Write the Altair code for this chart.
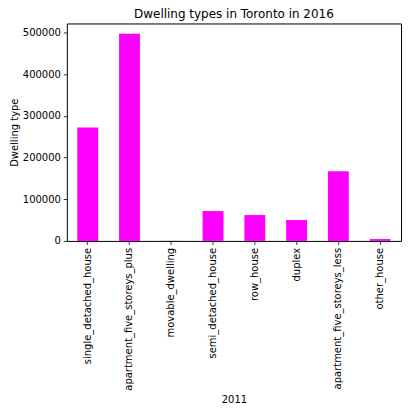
import altair as alt
import pandas as pd

categories = ["single_detached_house", "apartment_five_storeys_plus", "movable_dwelling",
              "semi_detached_house", "row_house", "duplex",
              "apartment_five_storeys_less", "other_house"]
values = [272000, 496500, 300, 71600, 62000, 50000, 167000, 4500]
y_ticks = [0, 100000, 200000, 300000, 400000, 500000]

df = pd.DataFrame({"type": categories, "count": values})

font = "DejaVu Sans"

chart = alt.Chart(df).mark_bar(color="#FF00FF").encode(
    x=alt.X("type:N", sort=categories,
            scale=alt.Scale(paddingInner=0.5, paddingOuter=0.25),
            axis=alt.Axis(title="2011", labelAngle=270, domain=False,
                          tickColor="black", tickSize=3.5, tickWidth=0.8,
                          labelColor="black", labelFont=font, labelFontSize=10,
                          labelPadding=3, titleFont=font, titleFontSize=10,
                          titleFontWeight="normal", titleColor="black",
                          titleBaseline="alphabetic", titleY=162,
                          labelLimit=400)),
    y=alt.Y("count:Q", scale=alt.Scale(domain=[0, 521300], nice=False, zero=True),
            axis=alt.Axis(title="Dwelling type", values=y_ticks, format="d",
                          grid=False, domain=False,
                          tickColor="black", tickSize=3.5, tickWidth=0.8,
                          labelColor="black", labelFont=font, labelFontSize=10,
                          labelPadding=3, titleFont=font, titleFontSize=10,
                          titleFontWeight="normal", titleColor="black",
                          titlePadding=3)),
).properties(
    width=335,
    height=218,
    title=alt.TitleParams("Dwelling types in Toronto in 2016", font=font, fontSize=12,
                          fontWeight="normal", color="black", offset=2),
    autosize=alt.AutoSizeParams(type="none"),
    padding={"left": 59, "top": 15, "right": 2, "bottom": 163},
).configure_view(stroke="black", strokeWidth=1)

chart.save("out.html", embed_options={"renderer": "svg", "actions": False})
